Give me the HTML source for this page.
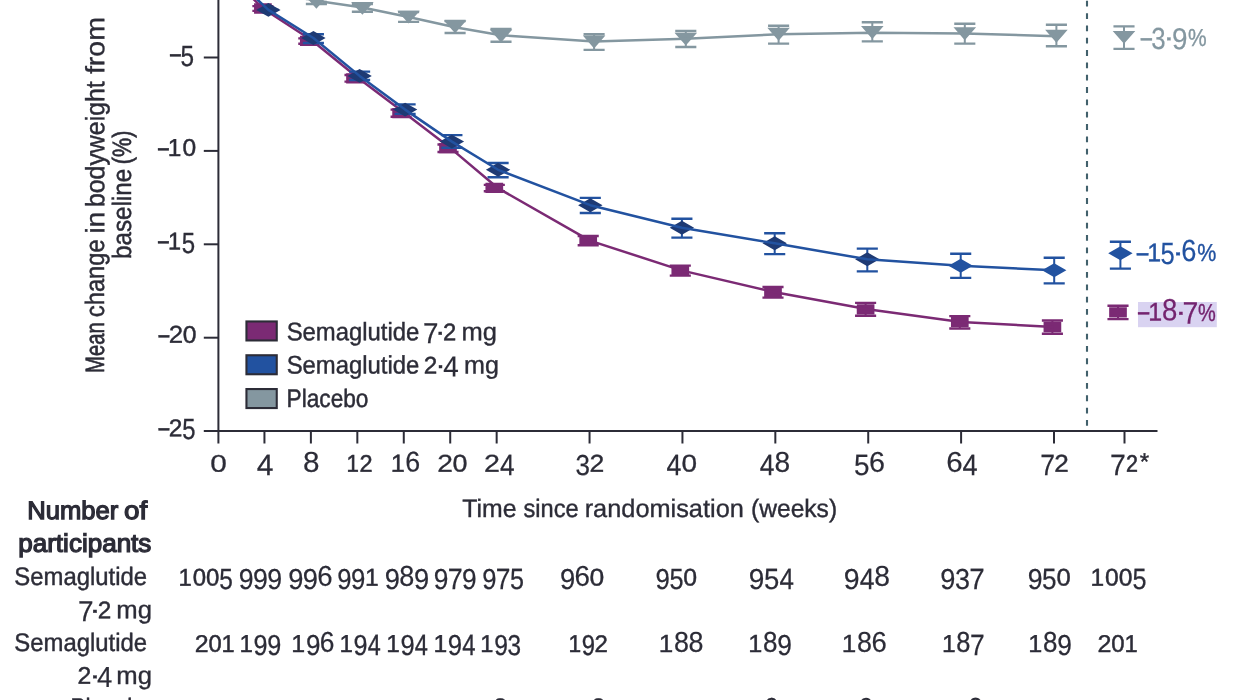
<!DOCTYPE html>
<html lang="en"><head><meta charset="utf-8"><title>Figure</title>
<style>
html,body{margin:0;padding:0;background:#fff;}
body{width:1250px;height:700px;overflow:hidden;font-family:"Liberation Sans",sans-serif;}
svg{display:block;position:absolute;left:0;top:0;will-change:transform;}
text{font-family:"Liberation Sans",sans-serif;font-size:25.3px;fill:#2c2c37;stroke:#2c2c37;stroke-width:.35px;vector-effect:non-scaling-stroke;}
g[fill] text{fill:inherit;stroke:inherit;}
</style></head><body>
<svg width="1250" height="700" viewBox="0 0 1250 700">
<g stroke="#2c2c37" stroke-width="2" fill="none">
<path d="M218.4 -5V443.5"/>
<path d="M203.8 431H1157.5"/>
<path d="M203.8 57.5H218.4"/>
<path d="M203.8 150.9H218.4"/>
<path d="M203.8 244.3H218.4"/>
<path d="M203.8 337.7H218.4"/>
<path d="M264.44 431V443.5"/>
<path d="M310.89 431V443.5"/>
<path d="M357.33 431V443.5"/>
<path d="M403.78 431V443.5"/>
<path d="M450.22 431V443.5"/>
<path d="M496.66 431V443.5"/>
<path d="M589.55 431V443.5"/>
<path d="M682.44 431V443.5"/>
<path d="M775.33 431V443.5"/>
<path d="M868.22 431V443.5"/>
<path d="M961.1 431V443.5"/>
<path d="M1053.99 431V443.5"/>
<path d="M1124.5 431V443.5"/>
</g>
<path d="M1087 -11.53V426.2" stroke="#42616c" stroke-width="2.1" stroke-dasharray="5.8 6.53" fill="none"/>
<path d="M258.45 -12h21.1M258.45 -8h21.1M305.85 -1h21.1M305.85 4h21.1M351.85 4h21.1M351.85 11.8h21.1M398.05 12h21.1M398.05 21.9h21.1M444.55 21h21.1M444.55 33h21.1M490.45 29h21.1M490.45 41.8h21.1M583.55 34.2h21.1M583.55 49.9h21.1M675.25 31h21.1M675.25 47h21.1M768.05 25.7h21.1M768.05 43.6h21.1M861.75 22.3h21.1M861.75 41.4h21.1M954.25 23.7h21.1M954.25 43.6h21.1M1045.85 24.8h21.1M1045.85 46.2h21.1M1113.45 26.4h21.1M1113.45 48.9h21.1" stroke="#8497a0" stroke-width="2.4" fill="none"/>
<path d="M269 -12V-8M316.4 -1V4M362.4 4V11.8M408.6 12V21.9M455.1 21V33M501 29V41.8M594.1 34.2V49.9M685.8 31V47M778.6 25.7V43.6M872.3 22.3V41.4M964.8 23.7V43.6M1056.4 24.8V46.2M1124 26.4V48.9" stroke="#8497a0" stroke-width="2" fill="none"/>
<path d="M257.7 -16.45h22.6L269 -3.55zM305.1 -4.15h22.6L316.4 8.75zM351.1 1.9h22.6L362.4 14.8zM397.3 10.65h22.6L408.6 23.55zM443.8 20.4h22.6L455.1 33.3zM489.7 29.55h22.6L501 42.45zM582.8 35.55h22.6L594.1 48.45zM674.5 32.65h22.6L685.8 45.55zM767.3 27.85h22.6L778.6 40.75zM861 26.05h22.6L872.3 38.95zM953.5 27.35h22.6L964.8 40.25zM1045.1 29.85h22.6L1056.4 42.75zM1112.7 30.95h22.6L1124 43.85z" fill="#8497a0"/>
<path d="M222 -36.5L269 -10L316.4 0.8L362.4 7.5L408.6 17L455.1 27.3L501 35.2L594.1 41.4L685.8 38.7L778.6 34.2L872.3 32.8L964.8 33.6L1056.4 36.2" stroke="#8497a0" stroke-width="2.5" fill="none" stroke-linejoin="round"/>
<path d="M252.35 6.1h21.1M252.35 10.9h21.1M298.25 38.4h21.1M298.25 43.8h21.1M344.45 75h21.1M344.45 81.6h21.1M390.55 109.6h21.1M390.55 116.8h21.1M437.45 144.5h21.1M437.45 152h21.1M483.75 184.9h21.1M483.75 191.3h21.1M577.65 236h21.1M577.65 245.2h21.1M669.75 265.6h21.1M669.75 275.6h21.1M762.45 287h21.1M762.45 297.6h21.1M855.05 302.9h21.1M855.05 315.7h21.1M949.25 316.1h21.1M949.25 328.5h21.1M1041.85 320.5h21.1M1041.85 333.7h21.1M1107.45 305.7h21.1M1107.45 319.1h21.1" stroke="#7b2a74" stroke-width="2.4" fill="none"/>
<path d="M262.9 6.1V10.9M308.8 38.4V43.8M355 75V81.6M401.1 109.6V116.8M448 144.5V152M494.3 184.9V191.3M588.2 236V245.2M680.3 265.6V275.6M773 287V297.6M865.6 302.9V315.7M959.8 316.1V328.5M1052.4 320.5V333.7M1118 305.7V319.1" stroke="#7b2a74" stroke-width="2" fill="none"/>
<path d="M254.05 3.35h17.7v10.3h-17.7zM299.95 35.65h17.7v10.3h-17.7zM346.15 73.15h17.7v10.3h-17.7zM392.25 108.05h17.7v10.3h-17.7zM439.15 143.05h17.7v10.3h-17.7zM485.45 182.65h17.7v10.3h-17.7zM579.35 235.45h17.7v10.3h-17.7zM671.45 265.45h17.7v10.3h-17.7zM764.15 287.15h17.7v10.3h-17.7zM856.75 304.15h17.7v10.3h-17.7zM950.95 316.75h17.7v10.3h-17.7zM1043.55 321.85h17.7v10.3h-17.7zM1109.15 307.25h17.7v10.3h-17.7z" fill="#7b2a74"/>
<path d="M218 -36.5L262.9 8.5L311.69 40.2L358.13 78L404.58 113L451.02 148.6L497.46 187.8L589.85 240.6L682.24 270.6L775.13 292.3L867.52 309.3L960.9 321.9L1053.79 327" stroke="#7b2a74" stroke-width="2.5" fill="none" stroke-linejoin="round"/>
<path d="M257.85 9.9h21.1M257.85 9.9h21.1M302.85 34.2h21.1M302.85 43h21.1M349.05 71.6h21.1M349.05 80h21.1M394.55 104.4h21.1M394.55 113.9h21.1M441.35 135.1h21.1M441.35 147.7h21.1M487.55 163h21.1M487.55 177.2h21.1M579.75 197.9h21.1M579.75 213h21.1M671.35 218.7h21.1M671.35 237.6h21.1M764.15 233.3h21.1M764.15 254.1h21.1M856.75 248.6h21.1M856.75 271.4h21.1M950.15 253.7h21.1M950.15 277.9h21.1M1043.65 257.8h21.1M1043.65 283.4h21.1M1109.85 241.8h21.1M1109.85 268.6h21.1" stroke="#2252a0" stroke-width="2.4" fill="none"/>
<path d="M268.4 9.9V9.9M313.4 34.2V43M359.6 71.6V80M405.1 104.4V113.9M451.9 135.1V147.7M498.1 163V177.2M590.3 197.9V213M681.9 218.7V237.6M774.7 233.3V254.1M867.3 248.6V271.4M960.7 253.7V277.9M1054.2 257.8V283.4M1120.4 241.8V268.6" stroke="#2252a0" stroke-width="2" fill="none"/>
<path d="M256.2 9.9L268.4 2.95L280.6 9.9L268.4 16.85zM301.2 38L313.4 31.05L325.6 38L313.4 44.95zM347.4 75.9L359.6 68.95L371.8 75.9L359.6 82.85zM392.9 109.6L405.1 102.65L417.3 109.6L405.1 116.55zM439.7 141.6L451.9 134.65L464.1 141.6L451.9 148.55zM485.9 169.8L498.1 162.85L510.3 169.8L498.1 176.75zM578.1 205.2L590.3 198.25L602.5 205.2L590.3 212.15zM669.7 227.7L681.9 220.75L694.1 227.7L681.9 234.65zM762.5 243.3L774.7 236.35L786.9 243.3L774.7 250.25zM855.1 259.3L867.3 252.35L879.5 259.3L867.3 266.25z" fill="#1e3a74"/>
<path d="M948.5 265.8L960.7 258.85L972.9 265.8L960.7 272.75zM1042 270.3L1054.2 263.35L1066.4 270.3L1054.2 277.25zM1108.2 253.3L1120.4 246.35L1132.6 253.3L1120.4 260.25z" fill="#2252a0"/>
<path d="M219 -36.5L268.4 9.9L313.4 38L359.6 75.9L405.1 109.6L451.9 141.6L498.1 169.8L590.3 205.2L681.9 227.7L774.7 243.3L867.3 259.3L960.7 265.8L1054.2 270.3" stroke="#2252a0" stroke-width="2.5" fill="none" stroke-linejoin="round"/>
<rect x="246.45" y="321.45" width="30.3" height="19" fill="#7b2a74" stroke="#2c2c37" stroke-width="2.1"/>
<rect x="246.45" y="355.25" width="30.3" height="19" fill="#2252a0" stroke="#2c2c37" stroke-width="2.1"/>
<rect x="246.45" y="389.05" width="30.3" height="19" fill="#8497a0" stroke="#2c2c37" stroke-width="2.1"/>
<text transform="translate(286.65 340.3) rotate(0.03)" textLength="132.72" lengthAdjust="spacingAndGlyphs" style="stroke-width:0.43px">Semaglutide</text>
<g><text transform="translate(423.04 343.37) rotate(0.03) scale(1.098 1.1512)" style="stroke-width:0.2px">7</text><text transform="translate(435.01 340.74) rotate(0.03) scale(1.2482 1.078)" style="stroke-width:0.35px">·</text><text transform="translate(442.89 340.22) rotate(0.03) scale(0.9415 0.9431)" style="stroke-width:0.5px">2</text></g>
<text transform="translate(461.47 340.3) rotate(0.03)" textLength="35.47" lengthAdjust="spacingAndGlyphs" style="stroke-width:0.35px">mg</text>
<text transform="translate(286.65 373.5) rotate(0.03)" textLength="132.72" lengthAdjust="spacingAndGlyphs" style="stroke-width:0.43px">Semaglutide</text>
<g><text transform="translate(423.86 373.43) rotate(0.03) scale(0.9606 0.9442)" style="stroke-width:0.48px">2</text><text transform="translate(435.21 373.94) rotate(0.03) scale(1.2482 1.078)" style="stroke-width:0.35px">·</text><text transform="translate(443.23 376.57) rotate(0.03) scale(1.102 1.1512)" style="stroke-width:0.2px">4</text></g>
<text transform="translate(463.99 373.5) rotate(0.03)" textLength="34.92" lengthAdjust="spacingAndGlyphs" style="stroke-width:0.36px">mg</text>
<text transform="translate(286.59 406.7) rotate(0.03)" textLength="81.83" lengthAdjust="spacingAndGlyphs" style="stroke-width:0.5px">Placebo</text>
<rect x="1138" y="302" width="78.8" height="25.2" fill="#d9d3f1"/>
<g fill="#8497a0" stroke="#8497a0"><text transform="translate(1140.8 46.62) rotate(0.03) scale(0.7976 1.2162)" style="stroke-width:0.35px">–</text><text transform="translate(1151.3 49.31) rotate(0.03) scale(1.0209 1.2047)" style="stroke-width:0.2px">3</text><text transform="translate(1163.16 46.35) rotate(0.03) scale(1.3314 1.078)" style="stroke-width:0.35px">·</text><text transform="translate(1171.88 49.31) rotate(0.03) scale(1.0999 1.2047)" style="stroke-width:0.2px">9</text><text transform="translate(1188.07 46.41) rotate(0.03) scale(0.8291 0.971)" style="stroke-width:0.35px">%</text></g>
<g fill="#2252a0" stroke="#2252a0"><text transform="translate(1136.8 261.62) rotate(0.03) scale(0.8261 1.2162)" style="stroke-width:0.35px">–</text><text transform="translate(1147.36 261.17) rotate(0.03) scale(0.9871 1.0025)" style="stroke-width:0.4px">1</text><text transform="translate(1160.51 264.31) rotate(0.03) scale(1.0102 1.2219)" style="stroke-width:0.2px">5</text><text transform="translate(1171.85 261.35) rotate(0.03) scale(1.4978 1.078)" style="stroke-width:0.35px">·</text><text transform="translate(1181.37 261.01) rotate(0.03) scale(1.0775 1.2103)" style="stroke-width:0.2px">6</text><text transform="translate(1197.25 261.41) rotate(0.03) scale(0.8484 0.971)" style="stroke-width:0.35px">%</text></g>
<g fill="#74246f" stroke="#74246f"><text transform="translate(1138 320.92) rotate(0.03) scale(0.7976 1.2162)" style="stroke-width:0.35px">–</text><text transform="translate(1148.16 320.47) rotate(0.03) scale(0.9871 1.0025)" style="stroke-width:0.4px">1</text><text transform="translate(1161.89 320.31) rotate(0.03) scale(1.0882 1.2103)" style="stroke-width:0.2px">8</text><text transform="translate(1175.16 320.65) rotate(0.03) scale(1.3314 1.078)" style="stroke-width:0.35px">·</text><text transform="translate(1182.51 323.87) rotate(0.03) scale(1.1241 1.2369)" style="stroke-width:0.2px">7</text><text transform="translate(1198.1 320.71) rotate(0.03) scale(0.7905 0.971)" style="stroke-width:0.35px">%</text></g>
<g><text transform="translate(170 63.33) rotate(0.03) scale(0.7691 1.2162)" style="stroke-width:0.35px">–</text><text transform="translate(180.6 65.78) rotate(0.03) scale(0.9611 1.1547)" style="stroke-width:0.29px">5</text></g>
<g><text transform="translate(158 156.73) rotate(0.03) scale(0.7691 1.2162)" style="stroke-width:0.35px">–</text><text transform="translate(167.82 156.04) rotate(0.03) scale(0.9651 0.971)" style="stroke-width:0.45px">1</text><text transform="translate(182.4 155.83) rotate(0.03) scale(0.97 0.9445)" style="stroke-width:0.47px">0</text></g>
<g><text transform="translate(158 250.13) rotate(0.03) scale(0.7691 1.2162)" style="stroke-width:0.35px">–</text><text transform="translate(167.92 249.42) rotate(0.03) scale(0.9272 0.9688)" style="stroke-width:0.49px">1</text><text transform="translate(181.85 252.57) rotate(0.03) scale(0.9496 1.154)" style="stroke-width:0.3px">5</text></g>
<g><text transform="translate(158.4 343.53) rotate(0.03) scale(0.7691 1.2162)" style="stroke-width:0.35px">–</text><text transform="translate(168.74 342.86) rotate(0.03) scale(1.0221 0.9595)" style="stroke-width:0.41px">2</text><text transform="translate(182.84 342.63) rotate(0.03) scale(0.9741 0.9447)" style="stroke-width:0.47px">0</text></g>
<g><text transform="translate(158.4 436.93) rotate(0.03) scale(0.7691 1.2162)" style="stroke-width:0.35px">–</text><text transform="translate(168.83 436.24) rotate(0.03) scale(0.9694 0.9566)" style="stroke-width:0.46px">2</text><text transform="translate(182.15 439.37) rotate(0.03) scale(0.9411 1.1535)" style="stroke-width:0.31px">5</text></g>
<g><text transform="translate(210.27 471.63) rotate(0.03) scale(1.1787 0.9556)" style="stroke-width:0.27px">0</text></g>
<g><text transform="translate(256.78 475.17) rotate(0.03) scale(1.1889 1.1741)" style="stroke-width:0.2px">4</text></g>
<g><text transform="translate(303.1 471.63) rotate(0.03) scale(1.1723 1.1323)" style="stroke-width:0.2px">8</text></g>
<g><text transform="translate(346.43 471.7) rotate(0.03) scale(0.8807 0.9661)" style="stroke-width:0.54px">1</text><text transform="translate(359.54 471.72) rotate(0.03) scale(0.9298 0.9544)" style="stroke-width:0.5px">2</text></g>
<g><text transform="translate(390.63 471.76) rotate(0.03) scale(1.003 0.9732)" style="stroke-width:0.41px">1</text><text transform="translate(405.29 471.62) rotate(0.03) scale(1.06 1.1317)" style="stroke-width:0.21px">6</text></g>
<g><text transform="translate(437.18 471.81) rotate(0.03) scale(1.1141 0.9645)" style="stroke-width:0.32px">2</text><text transform="translate(452.44 471.57) rotate(0.03) scale(1.0621 0.9495)" style="stroke-width:0.38px">0</text></g>
<g><text transform="translate(484.05 471.82) rotate(0.03) scale(1.1316 0.9654)" style="stroke-width:0.31px">2</text><text transform="translate(499.88 475.17) rotate(0.03) scale(1.0381 1.1741)" style="stroke-width:0.2px">4</text></g>
<g><text transform="translate(575.51 474.91) rotate(0.03) scale(1.0277 1.1416)" style="stroke-width:0.23px">3</text><text transform="translate(589.38 471.78) rotate(0.03) scale(1.0485 0.961)" style="stroke-width:0.38px">2</text></g>
<g><text transform="translate(666.56 475.17) rotate(0.03) scale(1.0601 1.1741)" style="stroke-width:0.2px">4</text><text transform="translate(681.62 471.59) rotate(0.03) scale(1.1038 0.9517)" style="stroke-width:0.34px">0</text></g>
<g><text transform="translate(759.77 475.17) rotate(0.03) scale(1.0455 1.1741)" style="stroke-width:0.2px">4</text><text transform="translate(774.38 471.63) rotate(0.03) scale(1.1122 1.1323)" style="stroke-width:0.2px">8</text></g>
<g><text transform="translate(854.12 474.92) rotate(0.03) scale(1.1005 1.1598)" style="stroke-width:0.2px">5</text><text transform="translate(869.01 471.63) rotate(0.03) scale(1.1364 1.1323)" style="stroke-width:0.2px">6</text></g>
<g><text transform="translate(946.15 471.63) rotate(0.03) scale(1.1681 1.1323)" style="stroke-width:0.2px">6</text><text transform="translate(962.6 475.17) rotate(0.03) scale(1.0747 1.1741)" style="stroke-width:0.2px">4</text></g>
<g><text transform="translate(1040.3 475.17) rotate(0.03) scale(1.0484 1.1741)" style="stroke-width:0.2px">7</text><text transform="translate(1054.3 471.77) rotate(0.03) scale(1.0309 0.96)" style="stroke-width:0.4px">2</text></g>
<g><text transform="translate(1110.11 475.17) rotate(0.03) scale(1.1241 1.1741)" style="stroke-width:0.2px">7</text><text transform="translate(1126.05 471.68) rotate(0.03) scale(0.8472 0.9496)" style="stroke-width:0.59px">2</text><text transform="translate(1139.64 469.7) rotate(0.03) scale(0.9575 0.9486)" style="stroke-width:0.35px">*</text></g>
<text transform="translate(462.3 517) rotate(0.03)" textLength="54.19" lengthAdjust="spacingAndGlyphs" style="stroke-width:0.38px">Time</text>
<text transform="translate(523.53 517) rotate(0.03)" textLength="55.13" lengthAdjust="spacingAndGlyphs" style="stroke-width:0.44px">since</text>
<text transform="translate(584.68 517) rotate(0.03)" textLength="159.14" lengthAdjust="spacingAndGlyphs" style="stroke-width:0.35px">randomisation</text>
<text transform="translate(751.02 517) rotate(0.03)" textLength="86.08" lengthAdjust="spacingAndGlyphs" style="stroke-width:0.39px">(weeks)</text>
<text transform="translate(104.3 372.92) rotate(-89.97)" textLength="50.55" lengthAdjust="spacingAndGlyphs" style="stroke-width:0.68px;font-size:26.5px">Mean</text>
<text transform="translate(104.3 317.15) rotate(-89.97)" textLength="77.81" lengthAdjust="spacingAndGlyphs" style="stroke-width:0.5px;font-size:26.5px">change</text>
<text transform="translate(104.3 233.82) rotate(-89.97)" textLength="22.33" lengthAdjust="spacingAndGlyphs" style="stroke-width:0.35px;font-size:26.5px">in</text>
<text transform="translate(104.3 207.09) rotate(-89.97)" textLength="125.84" lengthAdjust="spacingAndGlyphs" style="stroke-width:0.44px;font-size:26.5px">bodyweight</text>
<text transform="translate(104.3 74.09) rotate(-89.97)" textLength="57.08" lengthAdjust="spacingAndGlyphs" style="stroke-width:0.35px;font-size:26.5px">from</text>
<text transform="translate(130.6 259.05) rotate(-89.97)" textLength="90.23" lengthAdjust="spacingAndGlyphs" style="stroke-width:0.47px;font-size:26.5px">baseline</text>
<text transform="translate(130.6 164.19) rotate(-89.97)" textLength="33.54" lengthAdjust="spacingAndGlyphs" style="stroke-width:0.61px;font-size:26.5px">(%)</text>
<text transform="translate(27.15 519) rotate(0.03)" textLength="91.08" lengthAdjust="spacingAndGlyphs" style="stroke-width:1.25px">Number</text>
<text transform="translate(123.98 519) rotate(0.03)" textLength="23.25" lengthAdjust="spacingAndGlyphs" style="stroke-width:1.25px">of</text>
<text transform="translate(18.24 551.7) rotate(0.03)" textLength="133.14" lengthAdjust="spacingAndGlyphs" style="stroke-width:1.25px">participants</text>
<text transform="translate(14.29 585) rotate(0.03)" textLength="132.77" lengthAdjust="spacingAndGlyphs" style="stroke-width:0.43px">Semaglutide</text>
<g><text transform="translate(77.93 621.37) rotate(0.03) scale(1.1067 1.1512)" style="stroke-width:0.2px">7</text><text transform="translate(89.11 618.74) rotate(0.03) scale(1.4146 1.078)" style="stroke-width:0.35px">·</text><text transform="translate(97.66 618.23) rotate(0.03) scale(0.9606 0.9442)" style="stroke-width:0.48px">2</text></g>
<text transform="translate(116.36 618.3) rotate(0.03)" textLength="35.68" lengthAdjust="spacingAndGlyphs" style="stroke-width:0.35px">mg</text>
<text transform="translate(14.29 650.9) rotate(0.03)" textLength="132.77" lengthAdjust="spacingAndGlyphs" style="stroke-width:0.43px">Semaglutide</text>
<g><text transform="translate(77.42 683.84) rotate(0.03) scale(0.9796 0.9453)" style="stroke-width:0.46px">2</text><text transform="translate(89.11 684.34) rotate(0.03) scale(1.4146 1.078)" style="stroke-width:0.35px">·</text><text transform="translate(97.04 686.97) rotate(0.03) scale(1.0862 1.1512)" style="stroke-width:0.2px">4</text></g>
<text transform="translate(116.36 683.9) rotate(0.03)" textLength="35.68" lengthAdjust="spacingAndGlyphs" style="stroke-width:0.35px">mg</text>
<text transform="translate(70.49 716.4) rotate(0.03)" textLength="81.83" lengthAdjust="spacingAndGlyphs" style="stroke-width:0.5px">Placebo</text>
<g><text transform="translate(178.38 585.73) rotate(0.03) scale(0.9424 0.9697)" style="stroke-width:0.47px">1</text><text transform="translate(192.64 585.52) rotate(0.03) scale(0.9473 0.9432)" style="stroke-width:0.5px">0</text><text transform="translate(206.06 585.52) rotate(0.03) scale(0.9473 0.9432)" style="stroke-width:0.5px">0</text><text transform="translate(219.36 588.88) rotate(0.03) scale(0.9648 1.1549)" style="stroke-width:0.29px">5</text></g>
<g><text transform="translate(238.73 588.92) rotate(0.03) scale(1.0571 1.1433)" style="stroke-width:0.2px">9</text><text transform="translate(253.03 588.92) rotate(0.03) scale(1.0571 1.1433)" style="stroke-width:0.2px">9</text><text transform="translate(267.33 588.92) rotate(0.03) scale(1.0571 1.1433)" style="stroke-width:0.2px">9</text></g>
<g><text transform="translate(288.2 588.92) rotate(0.03) scale(1.0803 1.1435)" style="stroke-width:0.2px">9</text><text transform="translate(302.82 588.92) rotate(0.03) scale(1.0803 1.1435)" style="stroke-width:0.2px">9</text><text transform="translate(317.28 585.63) rotate(0.03) scale(1.092 1.1323)" style="stroke-width:0.2px">6</text></g>
<g><text transform="translate(337.29 588.9) rotate(0.03) scale(1.0178 1.141)" style="stroke-width:0.24px">9</text><text transform="translate(351.1 588.9) rotate(0.03) scale(1.0178 1.141)" style="stroke-width:0.24px">9</text><text transform="translate(365.04 585.75) rotate(0.03) scale(0.9731 0.9715)" style="stroke-width:0.44px">1</text></g>
<g><text transform="translate(384.7 588.92) rotate(0.03) scale(1.0803 1.1435)" style="stroke-width:0.2px">9</text><text transform="translate(399.33 585.63) rotate(0.03) scale(1.0687 1.1322)" style="stroke-width:0.2px">8</text><text transform="translate(413.93 588.92) rotate(0.03) scale(1.0803 1.1435)" style="stroke-width:0.2px">9</text></g>
<g><text transform="translate(433.76 588.91) rotate(0.03) scale(1.0402 1.1423)" style="stroke-width:0.22px">9</text><text transform="translate(447.67 589.17) rotate(0.03) scale(1.0649 1.1741)" style="stroke-width:0.2px">7</text><text transform="translate(461.94 588.91) rotate(0.03) scale(1.0402 1.1423)" style="stroke-width:0.22px">9</text></g>
<g><text transform="translate(482.2 588.9) rotate(0.03) scale(1.0149 1.1408)" style="stroke-width:0.25px">9</text><text transform="translate(495.79 589.17) rotate(0.03) scale(1.0414 1.1741)" style="stroke-width:0.2px">7</text><text transform="translate(509.91 588.89) rotate(0.03) scale(0.9929 1.1567)" style="stroke-width:0.26px">5</text></g>
<g><text transform="translate(559.89 588.92) rotate(0.03) scale(1.0854 1.1435)" style="stroke-width:0.2px">9</text><text transform="translate(574.43 585.63) rotate(0.03) scale(1.0972 1.1323)" style="stroke-width:0.2px">6</text><text transform="translate(589.54 585.57) rotate(0.03) scale(1.046 0.9486)" style="stroke-width:0.4px">0</text></g>
<g><text transform="translate(655.39 588.9) rotate(0.03) scale(1.0206 1.1412)" style="stroke-width:0.24px">9</text><text transform="translate(669.39 588.9) rotate(0.03) scale(0.9984 1.157)" style="stroke-width:0.25px">5</text><text transform="translate(683.36 585.54) rotate(0.03) scale(0.9806 0.9451)" style="stroke-width:0.46px">0</text></g>
<g><text transform="translate(748.87 588.92) rotate(0.03) scale(1.1084 1.1435)" style="stroke-width:0.2px">9</text><text transform="translate(764.03 588.92) rotate(0.03) scale(1.0851 1.1598)" style="stroke-width:0.2px">5</text><text transform="translate(779.48 589.17) rotate(0.03) scale(1.0308 1.174)" style="stroke-width:0.2px">4</text></g>
<g><text transform="translate(843.74 588.92) rotate(0.03) scale(1.1289 1.1435)" style="stroke-width:0.2px">9</text><text transform="translate(859.65 589.17) rotate(0.03) scale(1.0498 1.1741)" style="stroke-width:0.2px">4</text><text transform="translate(874.32 585.63) rotate(0.03) scale(1.1169 1.1323)" style="stroke-width:0.2px">8</text></g>
<g><text transform="translate(940.31 588.92) rotate(0.03) scale(1.0752 1.1435)" style="stroke-width:0.2px">9</text><text transform="translate(955 588.92) rotate(0.03) scale(1.0638 1.1435)" style="stroke-width:0.2px">3</text><text transform="translate(969.23 589.17) rotate(0.03) scale(1.0988 1.1741)" style="stroke-width:0.2px">7</text></g>
<g><text transform="translate(1027.63 588.92) rotate(0.03) scale(1.0542 1.1431)" style="stroke-width:0.21px">9</text><text transform="translate(1042.06 588.91) rotate(0.03) scale(1.0313 1.159)" style="stroke-width:0.21px">5</text><text transform="translate(1056.45 585.55) rotate(0.03) scale(1.0133 0.9469)" style="stroke-width:0.43px">0</text></g>
<g><text transform="translate(1090.41 585.75) rotate(0.03) scale(0.9708 0.9714)" style="stroke-width:0.45px">1</text><text transform="translate(1105.06 585.53) rotate(0.03) scale(0.9756 0.9448)" style="stroke-width:0.47px">0</text><text transform="translate(1118.84 585.53) rotate(0.03) scale(0.9756 0.9448)" style="stroke-width:0.47px">0</text><text transform="translate(1132.5 588.89) rotate(0.03) scale(0.9934 1.1567)" style="stroke-width:0.26px">5</text></g>
<g><text transform="translate(194.81 651.95) rotate(0.03) scale(0.9832 0.9574)" style="stroke-width:0.45px">2</text><text transform="translate(208.42 651.71) rotate(0.03) scale(0.9369 0.9427)" style="stroke-width:0.51px">0</text><text transform="translate(221.56 651.93) rotate(0.03) scale(0.9319 0.9691)" style="stroke-width:0.49px">1</text></g>
<g><text transform="translate(239.45 651.94) rotate(0.03) scale(0.9539 0.9704)" style="stroke-width:0.46px">1</text><text transform="translate(253.59 655.09) rotate(0.03) scale(0.9981 1.1398)" style="stroke-width:0.27px">9</text><text transform="translate(267.16 655.09) rotate(0.03) scale(0.9981 1.1398)" style="stroke-width:0.27px">9</text></g>
<g><text transform="translate(291.37 651.95) rotate(0.03) scale(0.9867 0.9723)" style="stroke-width:0.43px">1</text><text transform="translate(305.96 655.11) rotate(0.03) scale(1.0318 1.1418)" style="stroke-width:0.23px">9</text><text transform="translate(319.8 651.81) rotate(0.03) scale(1.0431 1.1308)" style="stroke-width:0.23px">6</text></g>
<g><text transform="translate(339.45 651.94) rotate(0.03) scale(0.9539 0.9704)" style="stroke-width:0.46px">1</text><text transform="translate(353.59 655.09) rotate(0.03) scale(0.9981 1.1398)" style="stroke-width:0.27px">9</text><text transform="translate(367.74 655.31) rotate(0.03) scale(0.924 1.1673)" style="stroke-width:0.32px">4</text></g>
<g><text transform="translate(386.23 651.94) rotate(0.03) scale(0.9648 0.971)" style="stroke-width:0.45px">1</text><text transform="translate(400.51 655.1) rotate(0.03) scale(1.0093 1.1405)" style="stroke-width:0.25px">9</text><text transform="translate(414.8 655.32) rotate(0.03) scale(0.9344 1.1679)" style="stroke-width:0.31px">4</text></g>
<g><text transform="translate(433.4 651.95) rotate(0.03) scale(0.9758 0.9716)" style="stroke-width:0.44px">1</text><text transform="translate(447.83 655.1) rotate(0.03) scale(1.0206 1.1412)" style="stroke-width:0.24px">9</text><text transform="translate(462.27 655.32) rotate(0.03) scale(0.9449 1.1686)" style="stroke-width:0.3px">4</text></g>
<g><text transform="translate(480.3 651.93) rotate(0.03) scale(0.9319 0.9691)" style="stroke-width:0.49px">1</text><text transform="translate(494.15 655.08) rotate(0.03) scale(0.9756 1.1385)" style="stroke-width:0.29px">9</text><text transform="translate(507.58 655.07) rotate(0.03) scale(0.9642 1.1378)" style="stroke-width:0.3px">3</text></g>
<g><text transform="translate(568.38 651.91) rotate(0.03) scale(0.899 0.9672)" style="stroke-width:0.52px">1</text><text transform="translate(581.79 655.06) rotate(0.03) scale(0.9418 1.1364)" style="stroke-width:0.33px">9</text><text transform="translate(594.61 651.93) rotate(0.03) scale(0.9489 0.9554)" style="stroke-width:0.48px">2</text></g>
<g><text transform="translate(658.87 651.98) rotate(0.03) scale(1.0305 0.9747)" style="stroke-width:0.39px">1</text><text transform="translate(674.07 651.82) rotate(0.03) scale(1.0632 1.1319)" style="stroke-width:0.21px">8</text><text transform="translate(688.61 651.82) rotate(0.03) scale(1.0632 1.1319)" style="stroke-width:0.21px">8</text></g>
<g><text transform="translate(748.35 651.96) rotate(0.03) scale(0.9977 0.9729)" style="stroke-width:0.42px">1</text><text transform="translate(763.1 651.81) rotate(0.03) scale(1.0299 1.13)" style="stroke-width:0.24px">8</text><text transform="translate(777.2 655.12) rotate(0.03) scale(1.043 1.1425)" style="stroke-width:0.22px">9</text></g>
<g><text transform="translate(841.87 651.98) rotate(0.03) scale(1.0305 0.9747)" style="stroke-width:0.39px">1</text><text transform="translate(857.07 651.82) rotate(0.03) scale(1.0632 1.1319)" style="stroke-width:0.21px">8</text><text transform="translate(871.45 651.83) rotate(0.03) scale(1.0869 1.1323)" style="stroke-width:0.2px">6</text></g>
<g><text transform="translate(941.91 651.95) rotate(0.03) scale(0.9731 0.9715)" style="stroke-width:0.44px">1</text><text transform="translate(956.33 651.79) rotate(0.03) scale(1.0049 1.1285)" style="stroke-width:0.27px">8</text><text transform="translate(969.93 655.37) rotate(0.03) scale(1.044 1.1741)" style="stroke-width:0.2px">7</text></g>
<g><text transform="translate(1028.35 651.96) rotate(0.03) scale(0.995 0.9727)" style="stroke-width:0.42px">1</text><text transform="translate(1043.07 651.8) rotate(0.03) scale(1.0271 1.1298)" style="stroke-width:0.24px">8</text><text transform="translate(1057.14 655.11) rotate(0.03) scale(1.0402 1.1423)" style="stroke-width:0.22px">9</text></g>
<g><text transform="translate(1097.6 651.95) rotate(0.03) scale(0.9918 0.9579)" style="stroke-width:0.44px">2</text><text transform="translate(1111.31 651.72) rotate(0.03) scale(0.9451 0.9431)" style="stroke-width:0.5px">0</text><text transform="translate(1124.56 651.93) rotate(0.03) scale(0.9402 0.9696)" style="stroke-width:0.48px">1</text></g>
<g><text transform="translate(194.81 717.95) rotate(0.03) scale(0.9832 0.9574)" style="stroke-width:0.45px">2</text><text transform="translate(208.42 717.71) rotate(0.03) scale(0.9369 0.9427)" style="stroke-width:0.51px">0</text><text transform="translate(221.56 717.93) rotate(0.03) scale(0.9319 0.9691)" style="stroke-width:0.49px">1</text></g>
<g><text transform="translate(239.45 717.94) rotate(0.03) scale(0.9539 0.9704)" style="stroke-width:0.46px">1</text><text transform="translate(253.59 721.09) rotate(0.03) scale(0.9981 1.1398)" style="stroke-width:0.27px">9</text><text transform="translate(266.97 721.37) rotate(0.03) scale(1.025 1.1736)" style="stroke-width:0.21px">7</text></g>
<g><text transform="translate(291.37 717.95) rotate(0.03) scale(0.9867 0.9723)" style="stroke-width:0.43px">1</text><text transform="translate(305.96 721.11) rotate(0.03) scale(1.0318 1.1418)" style="stroke-width:0.23px">9</text><text transform="translate(320.54 721.33) rotate(0.03) scale(0.9553 1.1693)" style="stroke-width:0.28px">4</text></g>
<g><text transform="translate(339.45 717.94) rotate(0.03) scale(0.9539 0.9704)" style="stroke-width:0.46px">1</text><text transform="translate(353.59 721.09) rotate(0.03) scale(0.9981 1.1398)" style="stroke-width:0.27px">9</text><text transform="translate(367.1 717.96) rotate(0.03) scale(1.0061 0.9586)" style="stroke-width:0.43px">2</text></g>
<g><text transform="translate(386.23 717.94) rotate(0.03) scale(0.9648 0.971)" style="stroke-width:0.45px">1</text><text transform="translate(400.51 721.1) rotate(0.03) scale(1.0093 1.1405)" style="stroke-width:0.25px">9</text><text transform="translate(414.5 717.73) rotate(0.03) scale(0.9697 0.9445)" style="stroke-width:0.47px">0</text></g>
<g><text transform="translate(433.4 717.95) rotate(0.03) scale(0.9758 0.9716)" style="stroke-width:0.44px">1</text><text transform="translate(447.65 721.37) rotate(0.03) scale(1.0466 1.1741)" style="stroke-width:0.2px">7</text><text transform="translate(461.68 721.1) rotate(0.03) scale(1.0206 1.1412)" style="stroke-width:0.24px">9</text></g>
<g><text transform="translate(479.7 717.93) rotate(0.03) scale(0.9319 0.9691)" style="stroke-width:0.49px">1</text><text transform="translate(493.58 717.77) rotate(0.03) scale(0.9632 1.126)" style="stroke-width:0.31px">8</text><text transform="translate(506.99 721.07) rotate(0.03) scale(0.9544 1.1543)" style="stroke-width:0.3px">5</text></g>
<g><text transform="translate(564.84 717.92) rotate(0.03) scale(0.9182 0.9683)" style="stroke-width:0.5px">1</text><text transform="translate(578.32 721.35) rotate(0.03) scale(0.9875 1.1713)" style="stroke-width:0.25px">7</text><text transform="translate(591.64 717.76) rotate(0.03) scale(0.9493 1.1252)" style="stroke-width:0.33px">8</text></g>
<g><text transform="translate(658.87 717.98) rotate(0.03) scale(1.0305 0.9747)" style="stroke-width:0.39px">1</text><text transform="translate(673.89 721.37) rotate(0.03) scale(1.0988 1.1741)" style="stroke-width:0.2px">7</text><text transform="translate(688.74 721.12) rotate(0.03) scale(1.0638 1.1435)" style="stroke-width:0.2px">3</text></g>
<g><text transform="translate(748.95 717.96) rotate(0.03) scale(0.9977 0.9729)" style="stroke-width:0.42px">1</text><text transform="translate(763.53 717.82) rotate(0.03) scale(1.0545 1.1314)" style="stroke-width:0.22px">6</text><text transform="translate(777.8 721.12) rotate(0.03) scale(1.043 1.1425)" style="stroke-width:0.22px">9</text></g>
<g><text transform="translate(842.67 717.98) rotate(0.03) scale(1.0305 0.9747)" style="stroke-width:0.39px">1</text><text transform="translate(857.7 717.83) rotate(0.03) scale(1.0869 1.1323)" style="stroke-width:0.2px">6</text><text transform="translate(872.56 721.12) rotate(0.03) scale(1.0526 1.1598)" style="stroke-width:0.2px">5</text></g>
<g><text transform="translate(940.21 717.95) rotate(0.03) scale(0.9731 0.9715)" style="stroke-width:0.44px">1</text><text transform="translate(954.76 721.09) rotate(0.03) scale(0.9956 1.1568)" style="stroke-width:0.25px">5</text><text transform="translate(968.44 717.79) rotate(0.03) scale(1.0049 1.1285)" style="stroke-width:0.27px">8</text></g>
<g><text transform="translate(1028.35 717.96) rotate(0.03) scale(0.995 0.9727)" style="stroke-width:0.42px">1</text><text transform="translate(1043.21 721.11) rotate(0.03) scale(1.0176 1.1582)" style="stroke-width:0.23px">5</text><text transform="translate(1056.96 721.37) rotate(0.03) scale(1.0649 1.1741)" style="stroke-width:0.2px">7</text></g>
<g><text transform="translate(1097.6 717.95) rotate(0.03) scale(0.9918 0.9579)" style="stroke-width:0.44px">2</text><text transform="translate(1111.31 717.72) rotate(0.03) scale(0.9451 0.9431)" style="stroke-width:0.5px">0</text><text transform="translate(1124.56 717.93) rotate(0.03) scale(0.9402 0.9696)" style="stroke-width:0.48px">1</text></g>
</svg>
</body></html>
